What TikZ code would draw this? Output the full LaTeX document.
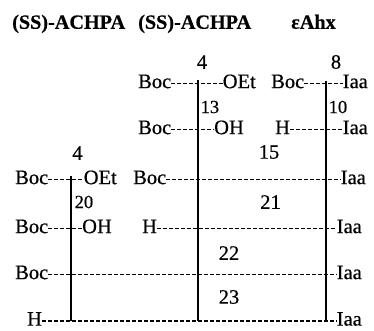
\documentclass[tikz,border=0pt]{standalone}
\usepackage{fontspec}
\setmainfont{Liberation Serif}[FakeBold=0.5]
\begin{document}
\begin{tikzpicture}[x=1pt,y=-1pt,
  txt/.style={inner sep=0pt, font=\fontsize{20.5}{24}\selectfont, text height=9.2pt, text depth=0pt},
  num/.style={inner sep=0pt, font=\fontsize{20.5}{24}\selectfont},
  numsm/.style={inner sep=0pt, font=\fontsize{18.5}{22}\selectfont, anchor=west},
  hdr/.style={inner sep=0pt, font=\fontsize{20.2}{24}\selectfont\bfseries, anchor=base west},
  chain/.style={line width=1.1pt, dash pattern=on 4pt off 2pt},
  bond/.style={line width=1.3pt}]
\useasboundingbox (0,0) rectangle (374,330);

% column headings
\node[hdr] (h1) at (12,28.75) {(SS)-ACHPA};
\node[hdr] (h2) at (138,28.75) {(SS)-ACHPA};
\node[hdr] (h3) at (291,28.75) {εAhx};

% starting compounds
\node[num] (n4a) at (202,62) {4};
\node[num] (n8) at (336,62) {8};
\node[txt, anchor=west] (a1) at (138,83.5) {Boc};
\node[txt, anchor=east] (a2) at (256,83.5) {OEt};
\node[txt, anchor=west] (a3) at (271,83.5) {Boc};
\node[txt, anchor=east] (a4) at (368,83.5) {Iaa};

\node[numsm] (n13) at (200.5,107) {13};
\node[numsm] (n10) at (328.5,107) {10};

\node[txt, anchor=west] (b1) at (138,129.5) {Boc};
\node[txt, anchor=east] (b2) at (244,129.5) {OH};
\node[txt, anchor=west] (b3) at (275,129.5) {H};
\node[txt, anchor=east] (b4) at (368,129.5) {Iaa};

\node[num] (n4b) at (77.5,153) {4};
\node[num] (n15) at (269,152) {15};

\node[txt, anchor=west] (c1) at (15,179.5) {Boc};
\node[txt, anchor=east] (c2) at (117,179.5) {OEt};
\node[txt, anchor=west] (c3) at (133,179.5) {Boc};
\node[txt, anchor=east] (c4) at (366,179.5) {Iaa};

\node[numsm] (n20) at (74.5,202) {20};
\node[num] (n21) at (270.5,202) {21};

\node[txt, anchor=west] (d1) at (15,228.5) {Boc};
\node[txt, anchor=east] (d2) at (112,228.5) {OH};
\node[txt, anchor=west] (d3) at (142,228.5) {H};
\node[txt, anchor=east] (d4) at (362,228.5) {Iaa};

\node[num] (n22) at (229,253) {22};

\node[txt, anchor=west] (e1) at (15,274.5) {Boc};
\node[txt, anchor=east] (e2) at (362,274.5) {Iaa};

\node[num] (n23) at (229,297) {23};

\node[txt, anchor=west] (f1) at (27,321) {H};
\node[txt, anchor=east] (f2) at (362,321) {Iaa};

% residue chains
\draw[chain] (a1) -- (a2);
\draw[chain] (a3) -- (a4);
\draw[chain] (b1) -- (b2);
\draw[chain] (b3) -- (b4);
\draw[chain] (c1) -- (c2);
\draw[chain] (c3) -- (c4);
\draw[chain] (d1) -- (d2);
\draw[chain] (d3) -- (d4);
\draw[chain] (e1) -- (e2);
\draw[chain] (f1) -- (f2);

% residue columns
\coordinate (ltop) at (71,176);
\coordinate (lbot) at (71,321);
\coordinate (mtop) at (198,80);
\coordinate (mbot) at (198,321);
\coordinate (rtop) at (326,81);
\coordinate (rbot) at (326,321);
\draw[bond] (ltop) -- (lbot);
\draw[bond] (mtop) -- (mbot);
\draw[bond] (rtop) -- (rbot);
\end{tikzpicture}
\end{document}
